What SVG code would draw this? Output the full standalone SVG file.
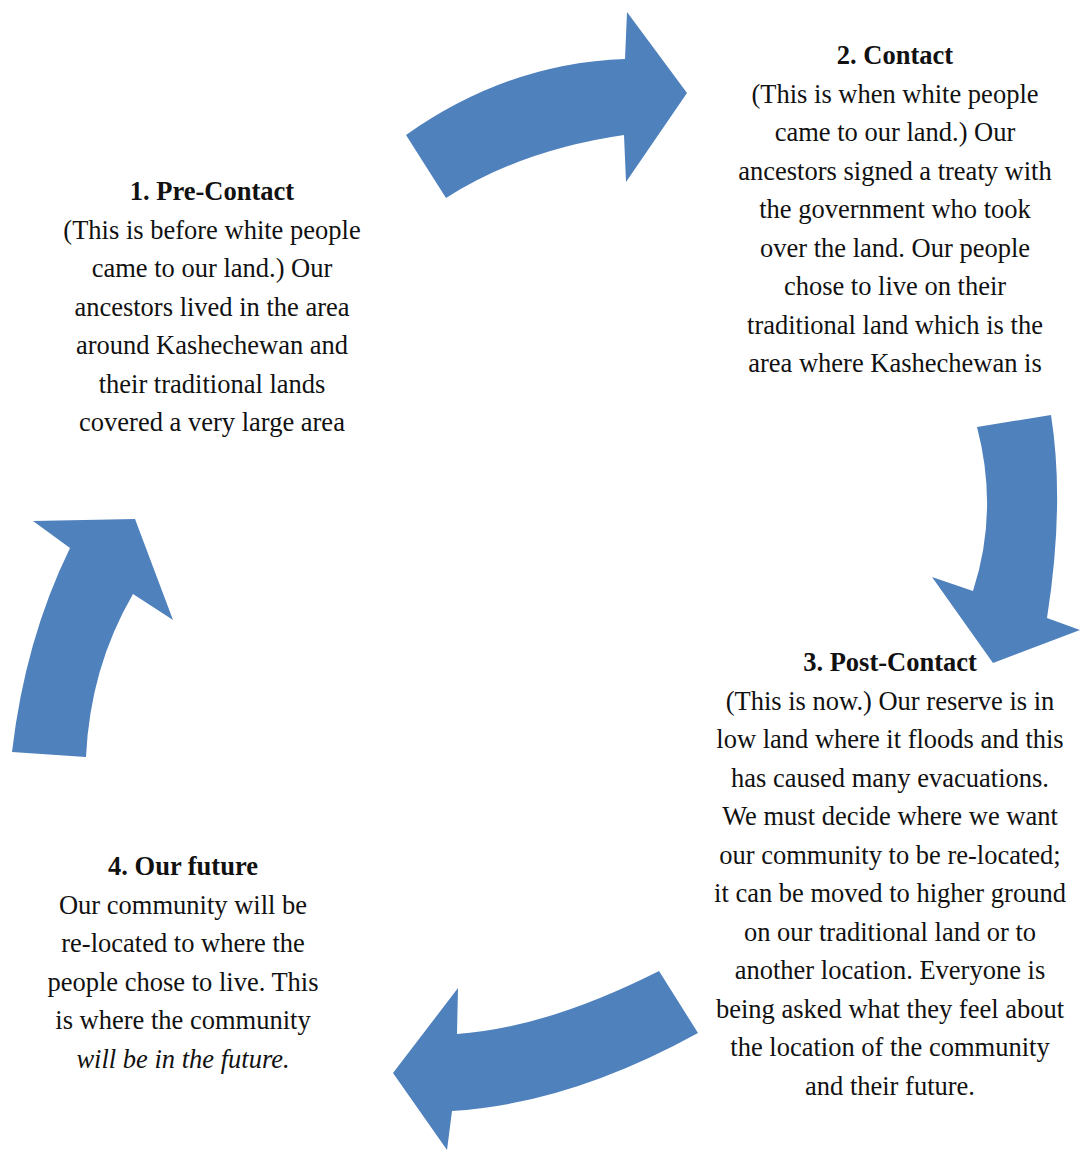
<svg xmlns="http://www.w3.org/2000/svg" width="1080" height="1152" viewBox="0 0 1080 1152">
<style>
.arrow{fill:#4F81BD;stroke:none}
text{font-family:"Liberation Serif","Times New Roman",serif;font-size:26.5px;fill:#111;text-anchor:middle}
.t{font-weight:bold}
.i{font-style:italic}
</style>
<rect width="1080" height="1152" fill="#fff"/>
<g id="connectors">
<path id="arrow-1-2" class="arrow" d="M406,135 Q508,63 625,59 L627,12 L687,93 L626,182 L624,135 Q521,150 446,198 Z"/>
<path id="arrow-2-3" class="arrow" d="M977,427 L1051,415 Q1065,504 1047,618 L1080,630 L993,663 L932,577 L973,591 Q999,511 977,427 Z"/>
<path id="arrow-3-4" class="arrow" d="M659,971 L698,1033 Q569,1104 452,1111 L447,1150 L393,1073 L458,988 L457,1034 Q546,1028 659,971 Z"/>
<path id="arrow-4-1" class="arrow" d="M12,752 Q25,640 70,548 L33,521 L135,519 L173,620 L133,594 Q90,668 86,757 Z"/>
</g>
<g id="node-1">
<text x="212" y="200" class="t">1. Pre-Contact</text>
<text x="212" y="238.5">(This is before white people</text>
<text x="212" y="277">came to our land.) Our</text>
<text x="212" y="315.5">ancestors lived in the area</text>
<text x="212" y="354">around Kashechewan  and</text>
<text x="212" y="392.5">their traditional lands</text>
<text x="212" y="431">covered a very  large area</text>
</g>
<g id="node-2">
<text x="895" y="64" class="t">2. Contact</text>
<text x="895" y="102.5">(This is when white people</text>
<text x="895" y="141">came to our land.) Our</text>
<text x="895" y="179.5">ancestors signed a treaty with</text>
<text x="895" y="218">the government who took</text>
<text x="895" y="256.5">over the land. Our people</text>
<text x="895" y="295">chose to live on their</text>
<text x="895" y="333.5">traditional land which is the</text>
<text x="895" y="372">area where Kashechewan  is</text>
</g>
<g id="node-3">
<text x="890" y="671" class="t">3. Post-Contact</text>
<text x="890" y="709.5">(This is now.) Our reserve is in</text>
<text x="890" y="748">low land where it floods and this</text>
<text x="890" y="786.5">has caused many evacuations.</text>
<text x="890" y="825">We must decide where we want</text>
<text x="890" y="863.5">our community to be re-located;</text>
<text x="890" y="902">it can be moved to higher ground</text>
<text x="890" y="940.5">on our traditional land or to</text>
<text x="890" y="979">another location. Everyone is</text>
<text x="890" y="1017.5">being asked what they feel about</text>
<text x="890" y="1056">the location of the community</text>
<text x="890" y="1094.5">and their future.</text>
</g>
<g id="node-4">
<text x="183" y="875" class="t">4. Our future</text>
<text x="183" y="913.5">Our community will be</text>
<text x="183" y="952">re-located to where the</text>
<text x="183" y="990.5">people chose to live. This</text>
<text x="183" y="1029">is where the community</text>
<text x="183" y="1067.5" class="i">will be in the future.</text>
</g>
</svg>
